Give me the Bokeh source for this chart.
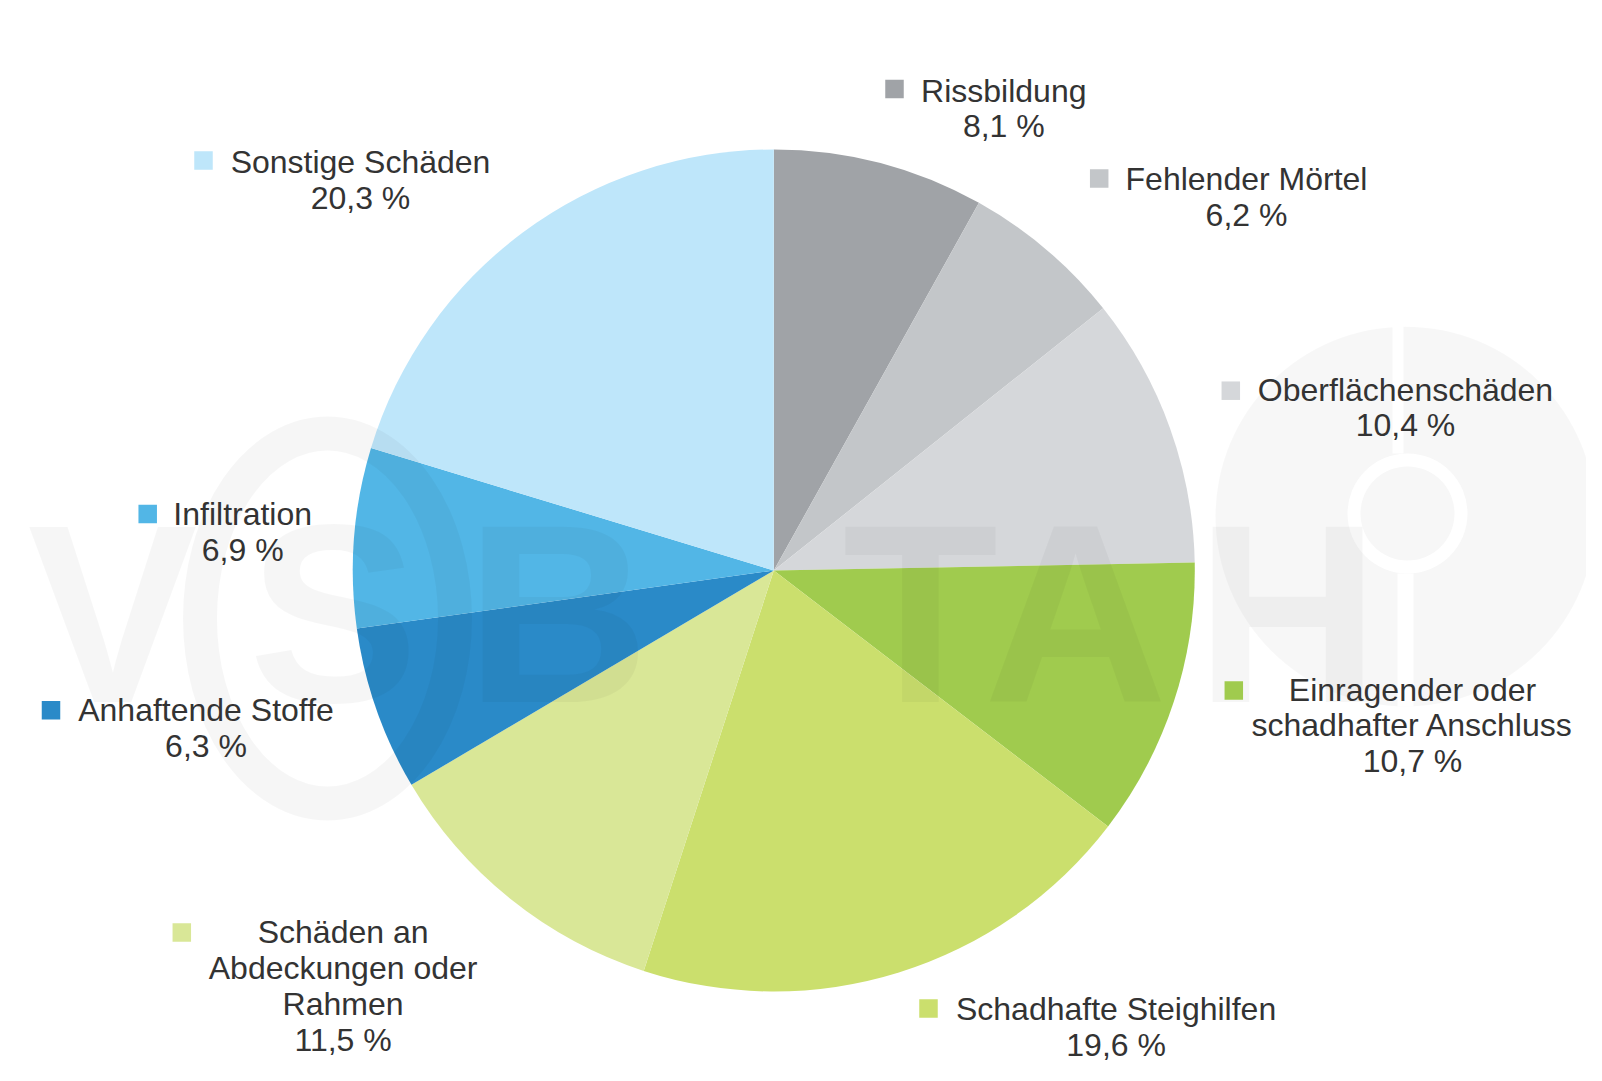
import numpy as np
from bokeh.plotting import figure
from bokeh.models import Range1d, ColumnDataSource
from bokeh.core.properties import value
from bokeh.embed import file_html
from bokeh.resources import INLINE

# ---- data (clockwise from 12 o'clock) ----
categories = [
    "Rissbildung",
    "Fehlender Mörtel",
    "Oberflächenschäden",
    "Einragender oder\nschadhafter Anschluss",
    "Schadhafte Steighilfen",
    "Schäden an\nAbdeckungen oder\nRahmen",
    "Anhaftende Stoffe",
    "Infiltration",
    "Sonstige Schäden",
]
shares = [8.1, 6.2, 10.4, 10.7, 19.6, 11.5, 6.3, 6.9, 20.3]
colors = ["#A0A3A7", "#C3C6C9", "#D5D7DA", "#A0CB4E", "#CBDF6D",
          "#D9E797", "#2A8AC8", "#52B6E6", "#BEE6FA"]
watermark_letters = ["V", "S", "B", "T", "A", "H"]

# ---- layout (image pixel coordinates) ----
W, H = 1586, 1065
TOP = 1081
cx, cy, R = 773.3, 570.0, 421.0
sq_pos = [(894, 88.5), (1098.7, 178), (1230.3, 390.2), (1233.3, 690),
          (928, 1008), (181.3, 932), (50.5, 709.7), (147.2, 513.5), (203, 160)]
txt_pos = [(1003.3, 101.7), (1246, 190), (1405, 400.7), (1412, 700.7),
           (1115.6, 1020.5), (342.6, 943.3), (205.5, 721), (242.2, 525), (360, 173)]
wm_x = [112, 333, 557, 920, 1075, 1287]
LINE = 35.8
FONT = "Liberation Sans"
FS = 32
WM_FS = 255

def Y(v):
    return TOP - v

def text_y(baseline, size):
    # glyphs are placed by their visual centre
    return Y(baseline - 0.36 * size)

p = figure(width=W, height=H, x_range=Range1d(0, W), y_range=Range1d(TOP - H, TOP),
           output_backend="svg", toolbar_location=None, min_border=0)
p.axis.visible = False
p.grid.visible = False
p.outline_line_color = None
p.background_fill_color = "white"
p.border_fill_color = "white"

# faint watermark (behind)
p.circle(x=[1405], y=[Y(516)], radius=190, fill_color="black", fill_alpha=0.03, line_color=None)
p.annulus(x=[1407], y=[Y(513)], inner_radius=47, outer_radius=60, fill_color="white",
          line_color=None)
p.quad(left=[1392, 1397], right=[1403, 1413], top=[Y(326), Y(573)], bottom=[Y(453), Y(706)],
       fill_color="white", line_color=None)

# wedges
frac = np.array(shares) / np.sum(shares)
cum = np.concatenate([[0], np.cumsum(frac)])
start = np.pi / 2 - 2 * np.pi * cum[1:]
end = np.pi / 2 - 2 * np.pi * cum[:-1]
src = ColumnDataSource(dict(x=[cx] * len(shares), y=[Y(cy)] * len(shares),
                            start=start, end=end, color=colors))
p.wedge(x="x", y="y", radius=R, start_angle="start", end_angle="end",
        fill_color="color", line_color=None, direction="anticlock", source=src)

# faint watermark (over)
p.ellipse(x=[327], y=[Y(618)], width=255, height=370, fill_color=None,
          line_color="black", line_alpha=0.035, line_width=34)
p.text(x=wm_x, y=[text_y(705, WM_FS)] * len(wm_x), text=watermark_letters, text_font=value(FONT),
       text_font_style="bold", text_font_size=f"{WM_FS}px", text_color="black", text_alpha=0.035,
       text_align="center", text_baseline="alphabetic")

# legend squares
p.rect(x=[s[0] for s in sq_pos], y=[Y(s[1]) for s in sq_pos], width=18.5, height=18.5,
       width_units="screen", height_units="screen", fill_color=colors, line_color=None)

# labels
tx, ty, tt = [], [], []
for cat, val, (x0, y0) in zip(categories, shares, txt_pos):
    lines = cat.split("\n") + [f"{val:.1f}".replace(".", ",") + " %"]
    for i, ln in enumerate(lines):
        tx.append(x0)
        ty.append(text_y(y0 + i * LINE, FS))
        tt.append(ln)
p.text(x=tx, y=ty, text=tt, text_font=value(FONT), text_font_size=f"{FS}px",
       text_color="#333333", text_align="center", text_baseline="alphabetic")

open("out.html", "w").write(file_html(p, INLINE))
